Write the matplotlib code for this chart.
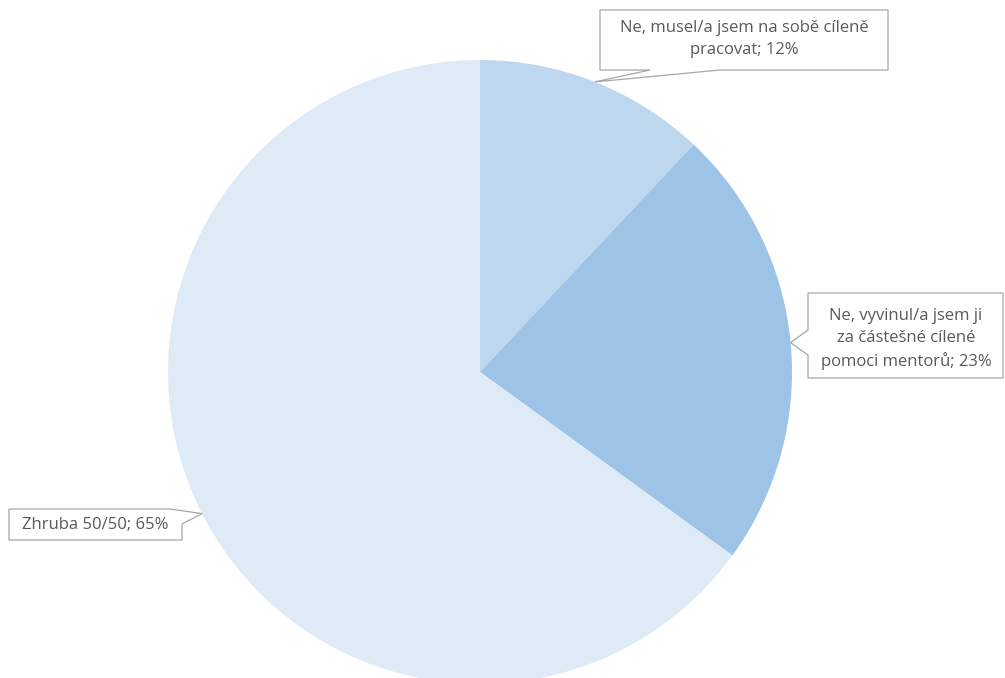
import numpy as np
import matplotlib.pyplot as plt
from matplotlib.patches import Polygon

labels = ["Ne, musel/a jsem na sobě cíleně\npracovat",
          "Ne, vyvinul/a jsem ji\nza částešné cílené\npomoci mentorů",
          "Zhruba 50/50"]
shares = [12, 23, 65]
colors = ["#BDD7EE", "#9DC3E6", "#DEEBF7"]

W, H = 1005, 678
plt.rcParams['font.family'] = ['Open Sans', 'DejaVu Sans']

fig = plt.figure(figsize=(W / 100, H / 100), dpi=100)
ax = fig.add_axes([0, 0, 1, 1])

cx, cy, r = 480, H - 372, 312
wedges, _ = ax.pie(shares, colors=colors, startangle=90, counterclock=False,
                   radius=r, center=(cx, cy), frame=True,
                   wedgeprops=dict(linewidth=0))
ax.set_xlim(0, W)
ax.set_ylim(0, H)
ax.set_aspect('equal')
ax.axis('off')


def px(x, y):
    return (x, H - y)


def tip_of(w):
    ang = np.deg2rad((w.theta1 + w.theta2) / 2)
    return (cx + r * np.cos(ang), cy + r * np.sin(ang))


# callout outlines in pixel coords (y down); tail tip goes where None is
shapes = [
    [(600, 10), (888, 10), (888, 70), (720, 70), None, (650, 70), (600, 70)],
    [(808, 293), (1003, 293), (1003, 378), (808, 378), (808, 355), None, (808, 330)],
    [(9, 509), (170, 509), None, (182, 524), (182, 540), (9, 540)],
]
text_pos = [(744, 39), (906, 339), (95, 525)]

for w, shape, (tx, ty), lab, val in zip(wedges, shapes, text_pos, labels, shares):
    tip = tip_of(w)
    pts = [tip if p is None else px(*p) for p in shape]
    ax.add_patch(Polygon(pts, closed=True, facecolor='white',
                         edgecolor='#A6A6A6', linewidth=0.9, zorder=3))
    ax.text(*px(tx, ty), f"{lab}; {val}%", ha='center', va='center',
            fontsize=12, color='#595959', linespacing=1.5, zorder=4)

plt.savefig("out.png", dpi=100)
